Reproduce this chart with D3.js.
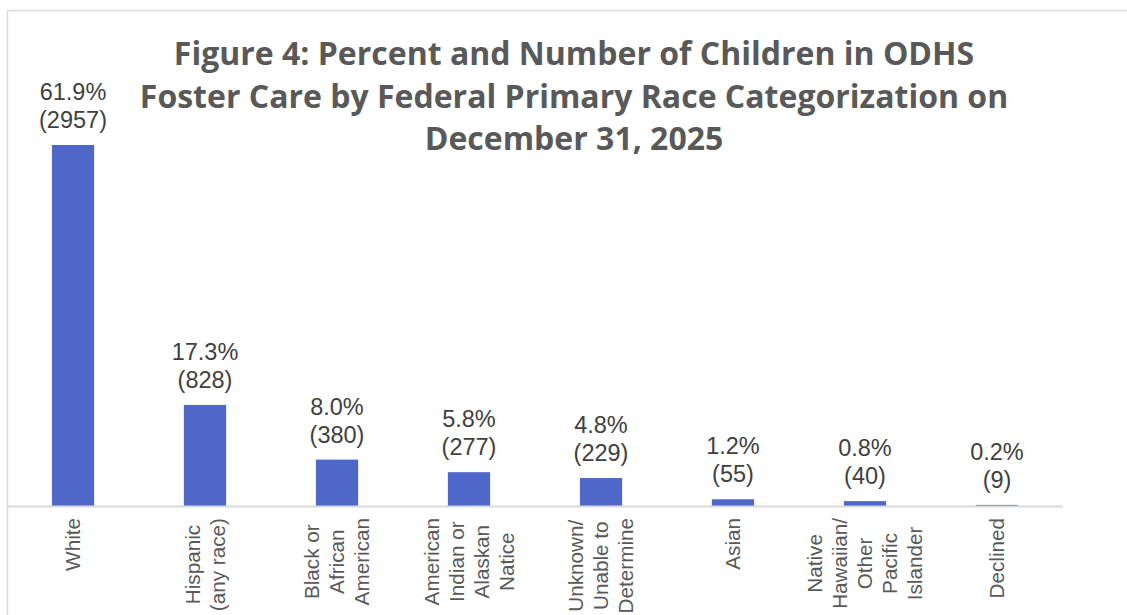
<!DOCTYPE html>
<html>
<head>
<meta charset="utf-8">
<script src="https://cdn.jsdelivr.net/npm/d3@7"></script>
<style>
  body { margin: 0; background: #fff; }
  svg { display: block; }
</style>
</head>
<body>
<div id="chart"></div>
<script>
// chart data
var categories = [
    ["White"],
    ["Hispanic", "(any race)"],
    ["Black or", "African", "American"],
    ["American", "Indian or", "Alaskan", "Natice"],
    ["Unknown/", "Unable to", "Determine"],
    ["Asian"],
    ["Native", "Hawaiian/", "Other", "Pacific", "Islander"],
    ["Declined"]
];
var percents = [61.9, 17.3, 8.0, 5.8, 4.8, 1.2, 0.8, 0.2];
var counts = [2957, 828, 380, 277, 229, 55, 40, 9];
var titleLines = [
    "Figure 4: Percent and Number of Children in ODHS",
    "Foster Care by Federal Primary Race Categorization on",
    "December 31, 2025"
];

var width = 1127, height = 615;
var svg = d3.select("#chart").append("svg")
    .attr("width", width)
    .attr("height", height);

// frame of the chart area
svg.append("path")
    .attr("d", "M7.5," + height + "V10.5H" + width)
    .attr("fill", "none")
    .attr("stroke", "#d9d9d9")
    .attr("stroke-width", 1.5);

var x = d3.scaleBand()
    .domain(d3.range(categories.length))
    .range([7, 1063])
    .paddingInner(0.68)
    .paddingOuter(0.34);

var y = d3.scaleLinear()
    .domain([0, d3.max(counts)])
    .range([506, 145]);

// bars
svg.selectAll(".bar")
    .data(counts)
    .enter().append("rect")
    .attr("class", "bar")
    .attr("x", function(d, i) { return x(i); })
    .attr("width", x.bandwidth())
    .attr("y", function(d) { return y(d); })
    .attr("height", function(d) { return y(0) - y(d); })
    .attr("fill", "#4e67c8");

// baseline
svg.append("line")
    .attr("x1", 7).attr("x2", 1063)
    .attr("y1", y(0) + 0.5).attr("y2", y(0) + 0.5)
    .attr("stroke", "#d9d9d9")
    .attr("stroke-width", 2);

// value labels
var labels = svg.selectAll(".val")
    .data(counts)
    .enter().append("text")
    .attr("class", "val")
    .attr("text-anchor", "middle")
    .attr("font-family", "Liberation Sans, Arial, sans-serif")
    .attr("font-size", "23.5px")
    .attr("fill", "#404040");
labels.append("tspan")
    .attr("x", function(d, i) { return x(i) + x.bandwidth() / 2; })
    .attr("y", function(d) { return y(d) - 45; })
    .text(function(d, i) { return percents[i].toFixed(1) + "%"; });
labels.append("tspan")
    .attr("x", function(d, i) { return x(i) + x.bandwidth() / 2; })
    .attr("y", function(d) { return y(d) - 17; })
    .text(function(d) { return "(" + d + ")"; });

// category labels, rotated, lines centred on the longest one
var lineGap = 25;
categories.forEach(function(lines, i) {
    var cx = x(i) + x.bandwidth() / 2;
    var g = svg.append("g");
    var texts = lines.map(function(l, j) {
        return g.append("text")
            .attr("text-anchor", "middle")
            .attr("font-family", "Liberation Sans, Arial, sans-serif")
            .attr("font-size", "20.7px")
            .attr("fill", "#595959")
            .text(l);
    });
    var longest = d3.max(texts, function(t) { return t.node().getComputedTextLength(); });
    var cy = 518 + longest / 2;
    texts.forEach(function(t, j) {
        var lx = cx + (j - (lines.length - 1) / 2) * lineGap + 7;
        t.attr("transform", "translate(" + lx + "," + cy + ") rotate(-90)");
    });
});

// title
svg.append("text")
    .attr("text-anchor", "middle")
    .attr("font-family", "Open Sans, sans-serif")
    .attr("font-weight", "bold")
    .attr("font-size", "32px")
    .attr("fill", "#595959")
    .selectAll("tspan")
    .data(titleLines)
    .enter().append("tspan")
    .attr("x", 574)
    .attr("y", function(d, i) { return 65 + i * 42.5; })
    .text(function(d) { return d; });
</script>
</body>
</html>
